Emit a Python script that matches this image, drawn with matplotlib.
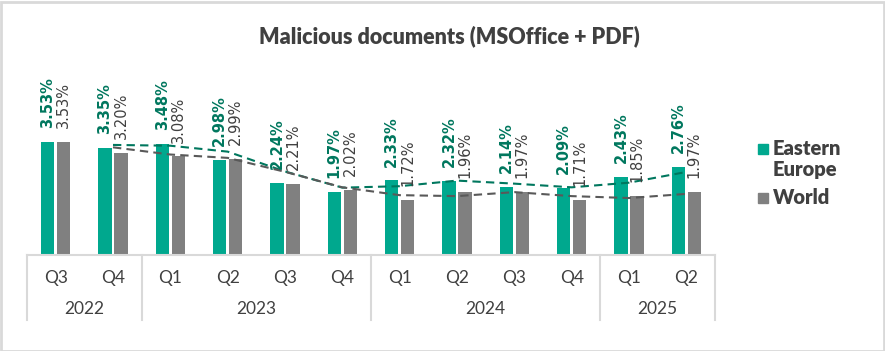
import matplotlib

matplotlib.use("Agg")
import matplotlib.pyplot as plt
import numpy as np
from matplotlib.patches import Rectangle

quarters = ["Q3", "Q4", "Q1", "Q2", "Q3", "Q4", "Q1", "Q2", "Q3", "Q4", "Q1", "Q2"]
years = ["2022", "2023", "2024", "2025"]
year_sizes = [2, 4, 4, 2]
eastern_europe = [3.53, 3.35, 3.48, 2.98, 2.24, 1.97, 2.33, 2.32, 2.14, 2.09, 2.43, 2.76]
world = [3.53, 3.20, 3.08, 2.99, 2.21, 2.02, 1.72, 1.96, 1.97, 1.71, 1.85, 1.97]

GREEN = "#00A88E"
GREEN_DARK = "#00775E"
GREY = "#808080"
GREY_DARK = "#595959"
TEXT = "#404040"
LINE = "#D9D9D9"

W, H = 885, 351
fig = plt.figure(figsize=(W / 100, H / 100), dpi=100)

# plot area in pixels: x 27..715, baseline at y=255, 32 px per percent
left, right, base = 27, 715, 255
ax = fig.add_axes([left / W, (H - base) / H, (right - left) / W, 192 / H])
ax.set_xlim(-0.5, len(quarters) - 0.5)
ax.set_ylim(0, 6)
ax.axis("off")

x = np.arange(len(quarters))
off, bw = 0.14, 0.23
ax.bar(x - off, eastern_europe, bw, color=GREEN, zorder=2)
ax.bar(x + off, world, bw, color=GREY, zorder=2)

# 2-period moving average trendlines
ee = np.array(eastern_europe)
wo = np.array(world)
ax.plot(x[1:], (ee[1:] + ee[:-1]) / 2, color=GREEN_DARK, lw=1.5, dashes=(4, 2.5), zorder=3)
ax.plot(x[1:], (wo[1:] + wo[:-1]) / 2, color=GREY_DARK, lw=1.5, dashes=(4, 2.5), zorder=3)

for i in range(len(quarters)):
    ax.annotate(f"{eastern_europe[i]:.2f}%", xy=(x[i] - off, eastern_europe[i]),
                xytext=(0, 10), textcoords="offset points", rotation=90,
                ha="center", va="bottom", fontsize=10.5, fontweight="bold",
                color=GREEN_DARK, family="DejaVu Sans", annotation_clip=False)
    ax.annotate(f"{world[i]:.2f}%", xy=(x[i] + off, world[i]),
                xytext=(0, 10), textcoords="offset points", rotation=90,
                ha="center", va="bottom", fontsize=10.5,
                color=TEXT, family="DejaVu Sans", annotation_clip=False)

# two-level category axis
cax = fig.add_axes([left / W, (H - 320) / H, (right - left) / W, 65 / H])
cax.set_xlim(-0.5, len(quarters) - 0.5)
cax.set_ylim(65, 0)
cax.axis("off")
cax.plot([-0.5, len(quarters) - 0.5], [0, 0], color=LINE, lw=1.5, clip_on=False)
for i, q in enumerate(quarters):
    cax.text(i, 23, q, ha="center", va="center", fontsize=12.5, color=TEXT, family="Lato")
start = -0.5
cax.plot([start, start], [0, 65], color=LINE, lw=1.5, clip_on=False)
for name, size in zip(years, year_sizes):
    end = start + size
    cax.plot([end, end], [0, 65], color=LINE, lw=1.5, clip_on=False)
    cax.text((start + end) / 2, 54, name, ha="center", va="center", fontsize=12.5,
             color=TEXT, family="Lato")
    start = end

fig.text(449 / W, 1 - 36 / H, "Malicious documents (MSOffice + PDF)", ha="center",
         va="center", fontsize=15.5, fontweight="heavy", color=TEXT, family="Lato")

# legend
for y_px, color, label in [(149, GREEN, "Eastern\nEurope"), (198, GREY, "World")]:
    fig.patches.append(Rectangle(((758) / W, 1 - (y_px + 5) / H), 10 / W, 10 / H,
                                 transform=fig.transFigure, color=color))
    fig.text(773 / W, 1 - (y_px - 10) / H, label, ha="left", va="top", fontsize=14.5,
             fontweight="heavy", color=TEXT, family="Lato", linespacing=1.1)

fig.patches.append(Rectangle((0.5 / W, 0.5 / H), (W - 2) / W, (H - 2) / H,
                             transform=fig.transFigure, fill=False, edgecolor=LINE, lw=2))

fig.savefig("out.png", dpi=100)
